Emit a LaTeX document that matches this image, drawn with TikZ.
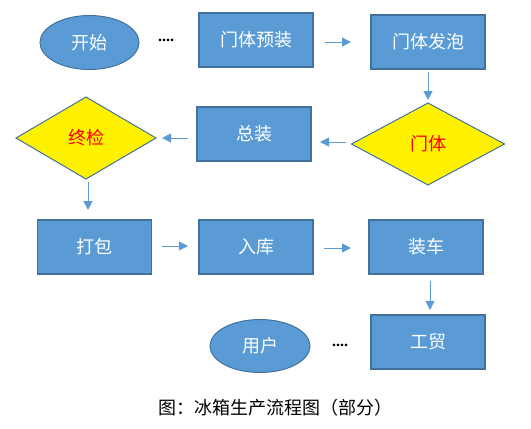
\documentclass[tikz,border=0pt]{standalone}
\usepackage{fontspec}
\setmainfont{Liberation Serif}
\newfontfamily\cjk{Noto Sans CJK SC}
\usetikzlibrary{shapes.geometric,arrows.meta}
\definecolor{boxblue}{HTML}{5B9BD5}
\definecolor{edgeblue}{HTML}{41719C}

\begin{document}
\begin{tikzpicture}[x=1pt,y=-1pt,
    every node/.style={font=\cjk\fontsize{18}{20}\selectfont, outer sep=0pt},
    stepbox/.style={rectangle, draw=edgeblue, fill=boxblue, line width=1.2pt, minimum width=114pt, minimum height=54pt, text=white},
    endbox/.style={ellipse, draw=edgeblue, fill=boxblue, line width=1pt, minimum width=99pt, minimum height=54pt, text=white},
    checkbox/.style={diamond, aspect=1.8, draw=edgeblue, fill=yellow, line width=1pt, inner sep=0pt, text=red},
    dotsbox/.style={font=\rmfamily\bfseries\fontsize{16}{18}\selectfont, inner sep=0pt},
    flow/.style={-{Triangle[length=9pt,width=9pt]}, draw=boxblue, line width=1pt}]
    \useasboundingbox (0,0) rectangle (531,429);
    \node[endbox] (start) at (89.5,42.5) {开始};
    \node[dotsbox] (dotsA) at (166,40) {....};
    \node[stepbox] (pre) at (256,40) {门体预装};
    \node[stepbox] (foam) at (428,42) {门体发泡};
    \node[checkbox, minimum width=153pt, minimum height=82pt] (door) at (428,144) {门体};
    \node[stepbox] (assem) at (254,134) {总装};
    \node[checkbox, minimum width=140pt, minimum height=82pt] (final) at (86,138) {终检};
    \node[stepbox] (pack) at (94.5,247) {打包};
    \node[stepbox] (store) at (256,247) {入库};
    \node[stepbox] (load) at (426,247) {装车};
    \node[stepbox] (trade) at (428,342) {工贸};
    \node[endbox, minimum width=100pt, minimum height=53pt] (user) at (260,346) {用户};
    \node[dotsbox] (dotsB) at (340,345) {....};
    \node[font=\cjk\fontsize{18}{20}\selectfont, text=black] (cap) at (275,408) {图：冰箱生产流程图（部分）};
    % arrows
    \draw[flow] ([xshift=12pt,yshift=-2pt]pre.east) -- ([xshift=-20pt]foam.west);
    \draw[flow] ([yshift=-3pt]foam.south) -- ([yshift=3pt]door.north);
    \draw[flow] ([xshift=-6pt,yshift=2pt]door.west) -- ([xshift=9pt,yshift=-8pt]assem.east);
    \draw[flow] ([xshift=-9pt,yshift=-4pt]assem.west) -- ([xshift=6pt]final.east);
    \draw[flow] ([xshift=2pt,yshift=-3pt]final.south) -- ([xshift=-6.5pt,yshift=10pt]pack.north);
    \draw[flow] ([xshift=10pt,yshift=1pt]pack.east) -- ([xshift=-11pt,yshift=1pt]store.west);
    \draw[flow] ([xshift=11pt,yshift=-1pt]store.east) -- ([xshift=-18pt,yshift=-1pt]load.west);
    \draw[flow] ([xshift=4pt,yshift=-7pt]load.south) -- ([xshift=2pt,yshift=5pt]trade.north);
\end{tikzpicture}
\end{document}
